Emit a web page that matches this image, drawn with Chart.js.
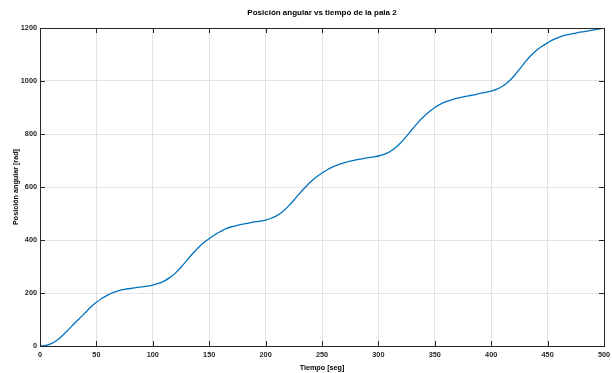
<!DOCTYPE html>
<html>
<head>
<meta charset="utf-8">
<script src="https://cdn.jsdelivr.net/npm/chart.js@4"></script>
<style>
  html, body { margin: 0; padding: 0; background: #fff; }
  #wrap { width: 612px; height: 373px; }
</style>
</head>
<body>
<div id="wrap"><canvas id="chart" width="612" height="373"></canvas></div>
<script>
/* ================= DATA ================= */
const tiempo = [
    0, 5, 10, 15, 20, 25, 30, 35, 40, 45,
    50, 55, 60, 65, 70, 75, 80, 85, 90, 95,
    100, 105, 110, 115, 120, 125, 130, 135, 140, 145,
    150, 155, 160, 165, 170, 175, 180, 185, 190, 195,
    200, 205, 210, 215, 220, 225, 230, 235, 240, 245,
    250, 255, 260, 265, 270, 275, 280, 285, 290, 295,
    300, 305, 310, 315, 320, 325, 330, 335, 340, 345,
    350, 355, 360, 365, 370, 375, 380, 385, 390, 395,
    400, 405, 410, 415, 420, 425, 430, 435, 440, 445,
    450, 455, 460, 465, 470, 475, 480, 485, 490, 495,
    500
];

const posicion = [
    0, 2, 9, 22, 40, 61, 83, 104, 125, 147,
    165, 180, 192, 202, 209, 214, 217, 220, 223, 226,
    230, 236, 245, 258, 275, 297, 322, 347, 370, 390,
    405, 420, 432, 443, 450, 455, 460, 464, 468, 471,
    475, 482, 492, 507, 527, 550, 575, 598, 620, 638,
    653, 666, 677, 685, 692, 698, 702, 706, 710, 713,
    717, 723, 733, 748, 768, 792, 818, 843, 865, 884,
    900, 913, 922, 929, 935, 940, 944, 948, 953, 957,
    962, 969, 980, 996, 1018, 1044, 1071, 1095, 1115, 1131,
    1144, 1156, 1165, 1172, 1177, 1181, 1185, 1188, 1192, 1196,
    1200
];

const xTicks = [0, 50, 100, 150, 200, 250, 300, 350, 400, 450, 500];
const yTicks = [0, 200, 400, 600, 800, 1000, 1200];

const TITULO = "Posición angular vs tiempo de la pala 2";
const X_LABEL = "Tiempo [seg]";
const Y_LABEL = "Posición angular [rad]";

/* ================= STYLE ================= */
const AXIS_COLOR = "#262626";
const GRID_COLOR = "#e3e3e3";
const LINE_COLOR = "#0072BD";
const FONT = "'Liberation Sans', Arial, Helvetica, sans-serif";

// caja estilo MATLAB + ticks hacia adentro
const boxPlugin = {
    id: "matlabBox",
    afterDraw(chart) {
        const { ctx, chartArea: a, scales } = chart;
        const tl = 5;
        ctx.save();
        ctx.strokeStyle = AXIS_COLOR;
        ctx.lineWidth = 1;
        ctx.beginPath();
        xTicks.forEach(v => {
            const x = Math.round(scales.x.getPixelForValue(v)) + 0.5;
            ctx.moveTo(x, a.bottom); ctx.lineTo(x, a.bottom - tl);
            ctx.moveTo(x, a.top);    ctx.lineTo(x, a.top + tl);
        });
        yTicks.forEach(v => {
            const y = Math.round(scales.y.getPixelForValue(v)) + 0.5;
            ctx.moveTo(a.left, y);  ctx.lineTo(a.left + tl, y);
            ctx.moveTo(a.right, y); ctx.lineTo(a.right - tl, y);
        });
        ctx.stroke();
        ctx.strokeRect(Math.round(a.left) + 0.5, Math.round(a.top) + 0.5,
                       Math.round(a.right - a.left), Math.round(a.bottom - a.top));
        ctx.restore();
    }
};

/* ================= CHART ================= */
new Chart(document.getElementById("chart"), {
    type: "line",
    data: {
        datasets: [{
            data: tiempo.map((t, i) => ({ x: t, y: posicion[i] })),
            borderColor: LINE_COLOR,
            borderWidth: 1.3,
            pointRadius: 0,
            fill: false,
            cubicInterpolationMode: "monotone"
        }]
    },
    options: {
        responsive: false,
        animation: false,
        devicePixelRatio: 1,
        layout: { padding: { left: 0, right: 8, top: 0, bottom: 0 } },
        plugins: {
            legend: { display: false },
            tooltip: { enabled: false },
            title: {
                display: true,
                text: TITULO,
                fullSize: false,
                color: "#000",
                font: { family: FONT, size: 8, weight: "bold", lineHeight: 1.2 },
                padding: { top: 8, bottom: 10.4 }
            }
        },
        scales: {
            x: {
                type: "linear",
                min: 0,
                max: 500,
                afterBuildTicks: s => { s.ticks = xTicks.map(v => ({ value: v })); },
                afterFit: s => { s.height = 27; s.paddingLeft = 0; s.paddingRight = 0; },
                grid: { color: GRID_COLOR, drawTicks: false },
                border: { color: AXIS_COLOR },
                ticks: {
                    color: AXIS_COLOR,
                    padding: 5,
                    maxRotation: 0,
                    callback: v => String(v),
                    font: { family: FONT, size: 7.3, weight: "bold" }
                },
                title: {
                    display: true,
                    text: X_LABEL,
                    color: "#000",
                    padding: { top: 0, bottom: 0.5 },
                    font: { family: FONT, size: 7.2, weight: "bold", lineHeight: 1.2 }
                }
            },
            y: {
                type: "linear",
                min: 0,
                max: 1200,
                afterBuildTicks: s => { s.ticks = yTicks.map(v => ({ value: v })); },
                afterFit: s => { s.width = 40; s.paddingTop = 0; s.paddingBottom = 0; },
                grid: { color: GRID_COLOR, drawTicks: false },
                border: { color: AXIS_COLOR },
                ticks: {
                    color: AXIS_COLOR,
                    padding: 3,
                    callback: v => String(v),
                    font: { family: FONT, size: 7.3, weight: "bold" }
                },
                title: {
                    display: true,
                    text: Y_LABEL,
                    color: "#000",
                    padding: { top: 11.5, bottom: 0 },
                    font: { family: FONT, size: 7.2, weight: "bold", lineHeight: 1.2 }
                }
            }
        }
    },
    plugins: [boxPlugin]
});
</script>
</body>
</html>
